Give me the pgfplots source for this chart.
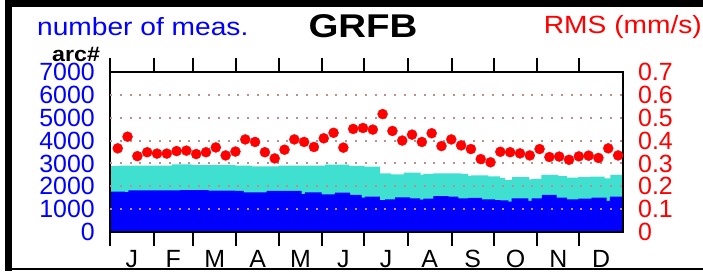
\documentclass[border=0pt]{standalone}
\usepackage{pgfplots}
\pgfplotsset{compat=1.18}
\usepackage{graphicx}
\usepackage{fontspec}
\setmainfont{Liberation Sans}
\definecolor{cyanfill}{RGB}{64,224,208}
\definecolor{bluefill}{RGB}{0,0,255}
\definecolor{gridc}{RGB}{188,143,143}

\pgfplotstableread{
day rms
5.5 0.366
12.48 0.417
19.46 0.332
26.44 0.349
33.42 0.343
40.4 0.343
47.38 0.354
54.36 0.356
61.34 0.341
68.32 0.349
75.3 0.370
82.28 0.335
89.26 0.352
96.24 0.405
103.22 0.394
110.2 0.349
117.18 0.322
124.16 0.360
131.14 0.405
138.12 0.394
145.1 0.372
152.08 0.410
159.06 0.434
166.04 0.369
173.02 0.451
180.0 0.455
186.98 0.448
193.96 0.516
200.94 0.442
207.92 0.400
214.9 0.426
221.88 0.394
228.86 0.432
235.84 0.376
242.82 0.405
249.8 0.379
256.78 0.363
263.76 0.319
270.74 0.305
277.72 0.351
284.7 0.349
291.68 0.344
298.66 0.335
305.64 0.363
312.62 0.328
319.6 0.330
326.58 0.316
333.56 0.331
340.54 0.334
347.52 0.324
354.5 0.366
361.48 0.335
}\rmsdata

\begin{document}
\begin{tikzpicture}[x=1bp,y=1bp]
\useasboundingbox (0,0) rectangle (703,271);
\fill[white] (0,0) rectangle (703,271);
\fill[black] (5,0) rectangle (12,271);
\fill[black] (5,264) rectangle (703,271);
\fill[black] (5,1) rectangle (703,3.3);

\node[anchor=base west, text=blue, inner sep=0pt, font=\fontsize{25}{25}\selectfont] at (37,236) {\scalebox{1.13}[1]{number of meas.}};
\node[anchor=base, text=black, inner sep=0pt, font=\fontsize{33}{33}\selectfont\bfseries] at (363,234) {\scalebox{1.17}[1]{GRFB}};
\node[anchor=base east, text=red, inner sep=0pt, font=\fontsize{25}{25}\selectfont] at (702,238) {\scalebox{1.13}[1]{RMS (mm/s)}};
\node[anchor=base west, text=black, inner sep=0pt, font=\fontsize{21}{21}\selectfont\bfseries] at (52,210) {\scalebox{1.11}[1]{arc\#}};

\begin{axis}[
  at={(110bp,39bp)}, anchor=south west,
  scale only axis, width=513bp, height=160bp,
  xmin=0, xmax=365, ymin=0, ymax=7000,
  axis line style={line width=2bp, black},
  axis on top,
  /pgf/number format/assume math mode=true,
  /pgf/number format/1000 sep={},
  ytick={0,1000,2000,3000,4000,5000,6000,7000},
  yticklabel style={font=\fontsize{25}{25}\selectfont, text=blue, anchor=east, inner sep=0pt, xshift=-15bp},
  extra y ticks={1000,2000,3000,4000,5000,6000},
  extra y tick labels={},
  extra y tick style={grid=major, major grid style={gridc, line width=2bp, dash pattern=on 2bp off 7.8bp}},
  xtick={15.5,45,74.5,105,135.5,166,196.5,227.5,258,288.5,319,349.5},
  xticklabels={J,F,M,A,M,J,J,A,S,O,N,D},
  xticklabel style={font=\fontsize{25}{25}\selectfont, text=black, anchor=base, inner sep=0pt, yshift=-35bp},
  minor xtick={0,31,59,90,120,151,181,212,243,273,304,334},
  tick align=outside,
  major tick length=0pt,
  minor tick length=14bp,
  minor tick style={line width=2bp, black},
]
\addplot[const plot, fill=cyanfill, draw=none] coordinates {
(0,2887) (6,2900) (44,2960) (58,2930) (89,2900) (101,2873) (120,2905) (153,2945) (170,2890) (181,2858) (192,2567) (200,2523) (209,2596) (221,2500) (223,2540) (230,2567) (250,2540) (255,2450) (257,2480) (269,2435) (277.5,2370) (281,2275) (286,2406) (298,2300) (300,2320) (307,2494) (319,2450) (325,2380) (333,2406) (341.5,2420) (352,2350) (356,2494) (365,2494)
} \closedcycle;
\addplot[const plot, fill=bluefill, draw=none] coordinates {
(0,1770) (10.7,1740) (13,1820) (50,1830) (70,1810) (89,1794) (95,1735) (111.5,1794) (136.4,1662) (138.7,1735) (150.6,1650) (160,1720) (170.8,1620) (179,1500) (181.4,1546) (192,1400) (195.7,1430) (202.8,1518) (213.5,1473) (220.6,1415) (223,1460) (230,1575) (240.7,1546) (247.8,1473) (255,1490) (264.5,1430) (274,1400) (277.5,1385) (283.4,1327) (285.8,1473) (297.6,1357) (300,1473) (307.2,1620) (317.8,1500) (325,1430) (333.2,1460) (342.7,1500) (353.4,1357) (355.7,1546) (365,1546)
} \closedcycle;
\end{axis}

\begin{axis}[
  at={(110bp,39bp)}, anchor=south west,
  scale only axis, width=513bp, height=160bp,
  xmin=0, xmax=365, ymin=0, ymax=0.7,
  axis x line=none,
  axis y line*=right,
  axis line style={line width=2bp, black},
  /pgf/number format/assume math mode=true,
  ytick={0,0.1,0.2,0.3,0.4,0.5,0.6,0.7},
  major tick length=0pt,
  yticklabel style={font=\fontsize{25}{25}\selectfont, text=red, anchor=west, inner sep=0pt, xshift=15bp, /pgf/number format/fixed, /pgf/number format/precision=1},
  clip=false,
]
\addplot[only marks, mark=*, mark size=5bp, red, mark options={draw=red, fill=red}] table[x=day, y=rms] {\rmsdata};
\end{axis}
\end{tikzpicture}
\end{document}
